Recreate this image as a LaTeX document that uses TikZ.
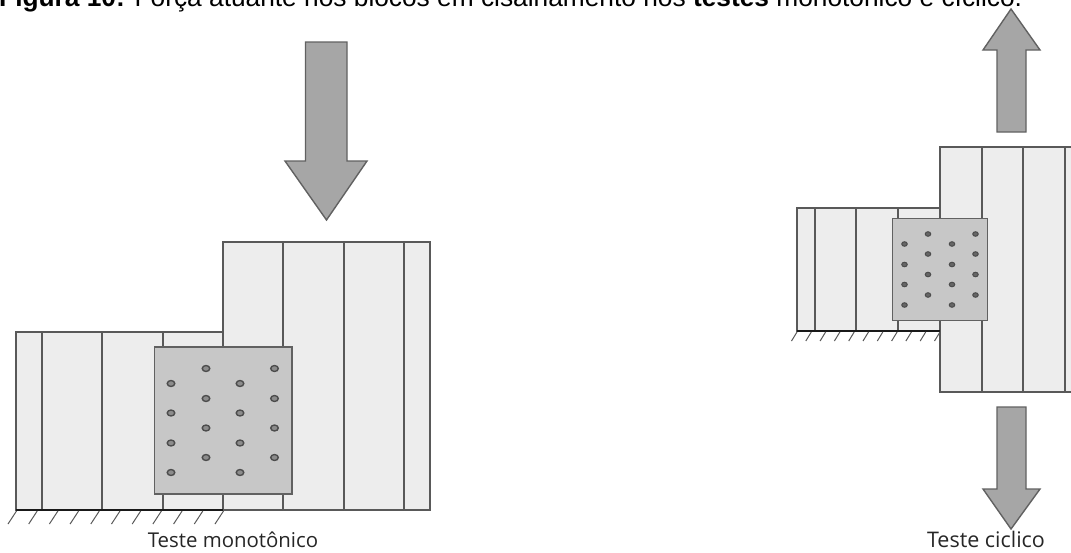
\documentclass[tikz,border=0pt]{standalone}
\usepackage{fontspec}
\setmainfont{Liberation Sans}
\newfontfamily\labelfont{Open Sans}
\usetikzlibrary{shapes.geometric}
\tikzstyle{block} = [draw=black!65, fill=black!7, line width=1.2pt]
\tikzstyle{plate} = [draw=black!62, fill=black!22, line width=1.5pt]
\tikzstyle{force} = [draw=black!62, fill=black!35, line width=1.4pt, line join=miter]
\tikzstyle{bolt} = [ellipse, draw=black!70, fill=black!45, line width=1.4pt, inner sep=0pt, minimum width=7.5pt, minimum height=6pt]
\tikzstyle{smallbolt} = [bolt, fill=black!60, line width=1pt, minimum width=5.5pt, minimum height=4.5pt]
\tikzstyle{ground} = [line width=2.4pt, black!90]
\tikzstyle{hatch} = [line width=1pt, black!65]
\tikzstyle{label} = [text=black!85, inner sep=0pt]
\begin{document}
\begin{tikzpicture}[x=1pt, y=-1pt]
\useasboundingbox (0,0) rectangle (1071,552);

% caption, cut by the top edge
\begin{scope}
\clip (0,0) rectangle (1071,552);
\node (TITLE) [anchor=base west, inner sep=0pt, font=\fontsize{26.3}{30}\selectfont] at (-1,6) {\textbf{Figura 10:} Força atuante nos blocos em cisalhamento nos \textbf{testes} monotônico e cíclico.};
\end{scope}

% left test
\draw [force] (305.5,42) -- (347,42) -- (347,161) -- (367,161) -- (326.5,220) -- (285,161) -- (305.5,161) -- cycle;
\draw [block] (16,332) rectangle (223,510);
\draw [block] (223,242) rectangle (430,510);
\foreach \x in {42,102,163} {
    \draw [block] (\x,332) -- (\x,510);
}
\foreach \x in {283,344,404} {
    \draw [block] (\x,242) -- (\x,510);
}
\draw [plate] (154.5,347) rectangle (292,494);
\foreach \x in {171,240} {
    \foreach \y in {383.5,413,443,472.5} {
        \node [bolt] at (\x,\y) {};
    }
}
\foreach \x in {206,274.5} {
    \foreach \y in {368.5,398.5,428,457.5} {
        \node [bolt] at (\x,\y) {};
    }
}
\draw [ground] (16,510) -- (223,510);
\foreach \i in {0,...,10} {
    \draw [hatch] (16.5+20.7*\i,511) -- (8+20.7*\i,524);
}
\node (MONO) [label, font=\labelfont\fontsize{20.4}{24}\selectfont] at (233,540) {Teste monotônico};

% right test
\draw [force] (997,132) -- (1026,132) -- (1026,50) -- (1040,50) -- (1011,9) -- (983,50) -- (997,50) -- cycle;
\draw [force] (997,407) -- (1026,407) -- (1026,489) -- (1040,489) -- (1011,529) -- (983,489) -- (997,489) -- cycle;
\draw [block] (797,208) rectangle (940,331);
\draw [block] (940,147) rectangle (1080,392);
\foreach \x in {815,856,898} {
    \draw [block] (\x,208) -- (\x,331);
}
\foreach \x in {982,1023,1065} {
    \draw [block] (\x,147) -- (\x,392);
}
\draw [plate] (892.5,218.5) rectangle (987.5,320.5);
\foreach \x in {904.5,952} {
    \foreach \y in {244,264.5,284.5,305} {
        \node [smallbolt] at (\x,\y) {};
    }
}
\foreach \x in {928,975.5} {
    \foreach \y in {234,254,274.5,295} {
        \node [smallbolt] at (\x,\y) {};
    }
}
\draw [ground] (797,331) -- (940,331);
\foreach \i in {0,...,10} {
    \draw [hatch] (797+14.3*\i,332) -- (791.5+14.3*\i,341);
}
\node (CICLICO) [label, font=\labelfont\fontsize{21.5}{25}\selectfont] at (986,539) {Teste ciclico};
\end{tikzpicture}
\end{document}
